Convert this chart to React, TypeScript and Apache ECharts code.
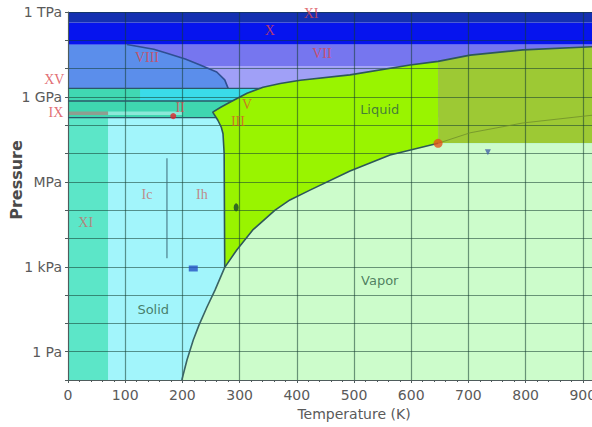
import React, { useEffect, useRef } from "react";
import * as echarts from "echarts";

type Pt = [number, number]; // [temperature K, pressure Pa]

// ---------- axis ----------
const T_MIN = 0;
const T_MAX = 1000;
const T_STEP = 100;
const LOG_P_MIN = -1;
const LOG_P_MAX = 12;
const yTickLabels: Record<number, string> = { 0: "1 Pa", 3: "1 kPa", 6: "MPa", 9: "1 GPa", 12: "1 TPa" };

// ---------- region limits ----------
const T_EDGE = 920;
const P_BOTTOM = 0.1;
const P_TOP = 1e12;
const P_X_SPLIT = 4.3e11;
const P_X_BOTTOM = 7.1e10;
const P_VII_SPLIT = 1.2e10;
const P_VI_TOP = 2.0e9;
const P_VI_BOTTOM = 7.2e8;
const P_IX_TOP = 3.05e8;
const P_IX_BOTTOM = 2.3e8;
const P_II_BOTTOM = 1.86e8;
const T_XI = 70;
const T_XV = 126;
const T_IX_LIGHT = 200;

// ---------- curves ----------
const criticalPoint: Pt = [647, 2.3e7];
const meltIh: Pt[] = [[274, 950], [273, 1e7], [271, 5e7], [268, 8.5e7], [262, 1.5e8], [253, 2.9e8]];
const meltHigh: Pt[] = [
  [253, 2.9e8], [267, 4.3e8], [283, 6.5e8], [313, 1.35e9], [341, 2.2e9], [371, 3.0e9],
  [406, 3.9e9], [493, 6.0e9], [598, 1.35e10], [647, 1.8e10], [703, 3.0e10], [795, 4.6e10], [920, 6.0e10],
];
const vaporization: Pt[] = [
  [274, 950], [295, 3.9e3], [323, 2.0e4], [362, 1.0e5], [388, 2.3e5], [423, 5.1e5],
  [493, 2.4e6], [563, 8.9e6], [647, 2.3e7],
];
const sublimation: Pt[] = [[274, 950], [257, 150], [243, 38], [229, 8.7], [219, 2.6], [208, 0.51], [199, 0.1]];
const supercritical: Pt[] = [[647, 2.3e7], [703, 5.4e7], [795, 1.2e8], [920, 2.3e8]];
const viiiBoundary: Pt[] = [
  [103, 7.1e10], [150, 4.8e10], [173, 3.5e10], [205, 2.2e10], [231, 1.35e10],
  [260, 7.6e9], [274, 4.0e9], [280, 2.0e9],
];
const separatorVI: Pt[] = [[0, 2.0e9], [336, 2.0e9]];
const separatorII: Pt[] = [[0, 7.2e8], [287, 7.2e8]];
const separatorIh: Pt[] = [[0, 1.86e8], [259, 1.86e8]];
const icLine: Pt[] = [[173, 6.8e6], [173, 2.0e3]];

// ---------- labels ----------
const numeralLabels: [string, number, number][] = [
  ["X", 353, 2.3e11], ["XI", 425, 8.5e11], ["VIII", 138, 2.4e10], ["VII", 444, 3.3e10],
  ["XV", -24, 4.0e9], ["IX", -21, 2.9e8], ["II", 196, 4.1e8],
];
const liquidSideLabels: [string, number, number][] = [["V", 313, 5.5e8], ["III", 297, 1.4e8]];
const lowIceLabels: [string, number, number][] = [["Ic", 138, 3.6e5], ["Ih", 234, 3.6e5], ["XI", 31, 3.8e4]];
const stateLabels: [string, number, number][] = [["Liquid", 545, 3.5e8], ["Vapor", 545, 340], ["Solid", 149, 32]];

// ---------- marked points ----------
const redDot: Pt = [184, 2.1e8];
const blueTriangle: Pt = [734, 1.1e7];
const blueRect: Pt = [219, 870];
const greenDot: Pt = [294, 1.25e5];

const lg = (p: Pt) => [p[0], Math.log10(p[1])];
const rect = (t0: number, t1: number, p0: number, p1: number): Pt[] => [[t0, p0], [t1, p0], [t1, p1], [t0, p1]];

function buildRegions() {
  const liquid: Pt[] = [
    ...meltIh,
    ...meltHigh.filter((p) => p[0] <= criticalPoint[0]).slice(1),
    criticalPoint,
    ...vaporization.slice(1, -1).reverse(),
  ];
  const fluid: Pt[] = [
    ...meltHigh.filter((p) => p[0] >= criticalPoint[0]),
    [T_EDGE, criticalPoint[1]],
    criticalPoint,
  ];
  const vapor: Pt[] = [
    ...vaporization,
    [T_EDGE, criticalPoint[1]],
    [T_EDGE, P_BOTTOM],
    ...sublimation.slice(1).reverse(),
  ];
  const viii: Pt[] = [[0, P_X_BOTTOM], ...viiiBoundary, [0, P_VI_TOP]];
  return [
    { pts: rect(T_XI, T_EDGE, P_BOTTOM, P_II_BOTTOM), color: "#a2f5fb" },
    { pts: rect(0, T_XI, P_BOTTOM, P_II_BOTTOM), color: "#5ce6c8" },
    { pts: rect(0, T_EDGE, P_II_BOTTOM, P_VI_BOTTOM), color: "#3fd6b0" },
    { pts: rect(T_XI, T_IX_LIGHT, P_IX_BOTTOM, P_IX_TOP), color: "#8ce8d8" },
    { pts: rect(0, T_XI, P_IX_BOTTOM, P_IX_TOP), color: "#8f9e90" },
    { pts: rect(0, T_EDGE, P_VI_BOTTOM, P_VI_TOP), color: "#3adbea" },
    { pts: rect(0, T_XV, P_VI_BOTTOM, P_VI_TOP), color: "#40d8b2" },
    { pts: rect(0, T_EDGE, P_VI_TOP, P_VII_SPLIT), color: "#a0a0f7" },
    { pts: rect(0, T_EDGE, P_VII_SPLIT, P_X_BOTTOM), color: "#7676ef" },
    { pts: viii, color: "#5b8eeb" },
    { pts: rect(0, T_EDGE, P_X_BOTTOM, P_X_SPLIT), color: "#0614ee" },
    { pts: rect(0, T_EDGE, P_X_SPLIT, P_TOP), color: "#1430b2" },
    { pts: liquid, color: "#99f400" },
    { pts: fluid, color: "#9dc934" },
    { pts: vapor, color: "#ccfccb" },
  ];
}

function lineSeries(data: Pt[], color: string, width: number, opacity = 1) {
  return {
    type: "line",
    data: data.map(lg),
    showSymbol: false,
    symbol: "none",
    silent: true,
    z: 4,
    lineStyle: { color, width, opacity },
  };
}

function labelSeries(items: [string, number, number][], style: any) {
  return {
    type: "scatter",
    symbolSize: 0,
    clip: false,
    silent: true,
    z: 6,
    data: items.map(([name, t, p]) => ({ name, value: lg([t, p]) })),
    label: { show: true, position: "inside", formatter: "{b}", ...style },
  };
}

export default function App() {
  const ref = useRef<HTMLDivElement>(null);
  useEffect(() => {
    if (!ref.current) return;
    const chart = echarts.init(ref.current, undefined, { renderer: "svg" });
    const regions = buildRegions();
    const axisColor = "#4f5c5c";
    const gridLine = { show: true, lineStyle: { color: "rgba(20,60,50,0.55)", width: 1.2 } };
    const labelFont = { color: "#5a5a5a", fontSize: 14, fontFamily: "DejaVu Sans" };
    const option: any = {
      animation: false,
      backgroundColor: "#ffffff",
      grid: { left: 68, top: 12, width: 572, height: 368, outerBoundsMode: "none", containLabel: false },
      xAxis: {
        type: "value",
        min: T_MIN,
        max: T_MAX,
        interval: T_STEP,
        z: 3,
        name: "Temperature (K)",
        nameLocation: "middle",
        nameGap: 25,
        nameTextStyle: { color: "#5a5a5a", fontSize: 14, fontFamily: "DejaVu Sans" },
        axisLine: { show: true, onZero: false, lineStyle: { color: axisColor } },
        axisTick: { show: true, length: 3, lineStyle: { color: axisColor } },
        minorTick: { show: true, splitNumber: 5, length: 2, lineStyle: { color: axisColor } },
        axisLabel: { margin: 8, ...labelFont, formatter: (v: number) => String(Math.round(v)) },
        splitLine: gridLine,
      },
      yAxis: {
        type: "value",
        min: LOG_P_MIN,
        max: LOG_P_MAX,
        interval: 1,
        z: 3,
        axisLine: { show: true, onZero: false, lineStyle: { color: axisColor } },
        axisTick: { show: true, length: 3, lineStyle: { color: axisColor } },
        axisLabel: {
          margin: 6,
          ...labelFont,
          formatter: (v: number) => yTickLabels[Math.round(v)] ?? "",
        },
        splitLine: gridLine,
      },
      graphic: [
        {
          type: "text",
          x: 16,
          y: 180,
          rotation: Math.PI / 2,
          style: {
            text: "Pressure",
            fill: "#4a4a4a",
            font: "bold 16px 'DejaVu Sans'",
            align: "center",
            verticalAlign: "middle",
          },
        },
      ],
      series: [
        {
          type: "custom",
          coordinateSystem: "cartesian2d",
          clip: true,
          silent: true,
          z: 1,
          data: regions.map((_, i) => [i, 0]),
          renderItem: (params: any, api: any) => {
            const r = regions[params.dataIndex];
            return {
              type: "polygon",
              shape: { points: r.pts.map((p) => api.coord(lg(p))) },
              style: { fill: r.color },
            };
          },
        },
        lineSeries([...meltIh, ...meltHigh.slice(1)], "#2d5858", 1.6),
        lineSeries(vaporization, "#2d5858", 1.6),
        lineSeries(sublimation, "#3a6464", 1.6),
        lineSeries(supercritical, "#6f8f2a", 1, 0.8),
        lineSeries(viiiBoundary, "#2e4f93", 1.6),
        lineSeries(separatorVI, "#2a5868", 1.4),
        lineSeries(separatorII, "#2a5868", 1.4),
        lineSeries(separatorIh, "#2a5868", 1.4),
        lineSeries(icLine, "#3d6b78", 1),
        {
          type: "scatter",
          silent: true,
          z: 5,
          data: [
            { value: lg(redDot), symbol: "circle", symbolSize: 6, itemStyle: { color: "#e2242c" } },
            { value: lg(criticalPoint), symbol: "circle", symbolSize: 9, itemStyle: { color: "#e4521c" } },
            { value: lg(blueTriangle), symbol: "triangle", symbolRotate: 180, symbolSize: 6, itemStyle: { color: "#4462a8" } },
            { value: lg(blueRect), symbol: "rect", symbolSize: [9, 6], itemStyle: { color: "#2452c4" } },
            { value: lg(greenDot), symbol: "circle", symbolSize: [5, 8], itemStyle: { color: "#18462a" } },
          ],
        },
        labelSeries(numeralLabels, { color: "#d9464e", fontSize: 14, fontFamily: "Liberation Serif" }),
        labelSeries(liquidSideLabels, { color: "#d55a28", fontSize: 14, fontFamily: "Liberation Serif" }),
        labelSeries(lowIceLabels, { color: "#c46e6a", fontSize: 14, fontFamily: "Liberation Serif" }),
        labelSeries(stateLabels, { color: "#2f5f45", fontSize: 13, fontFamily: "DejaVu Sans" }),
      ],
    };
    chart.setOption(option);
    return () => chart.dispose();
  }, []);
  return <div ref={ref} style={{ width: 592, height: 427, position: "absolute", left: 0, top: 0, overflow: "hidden" }} />;
}
